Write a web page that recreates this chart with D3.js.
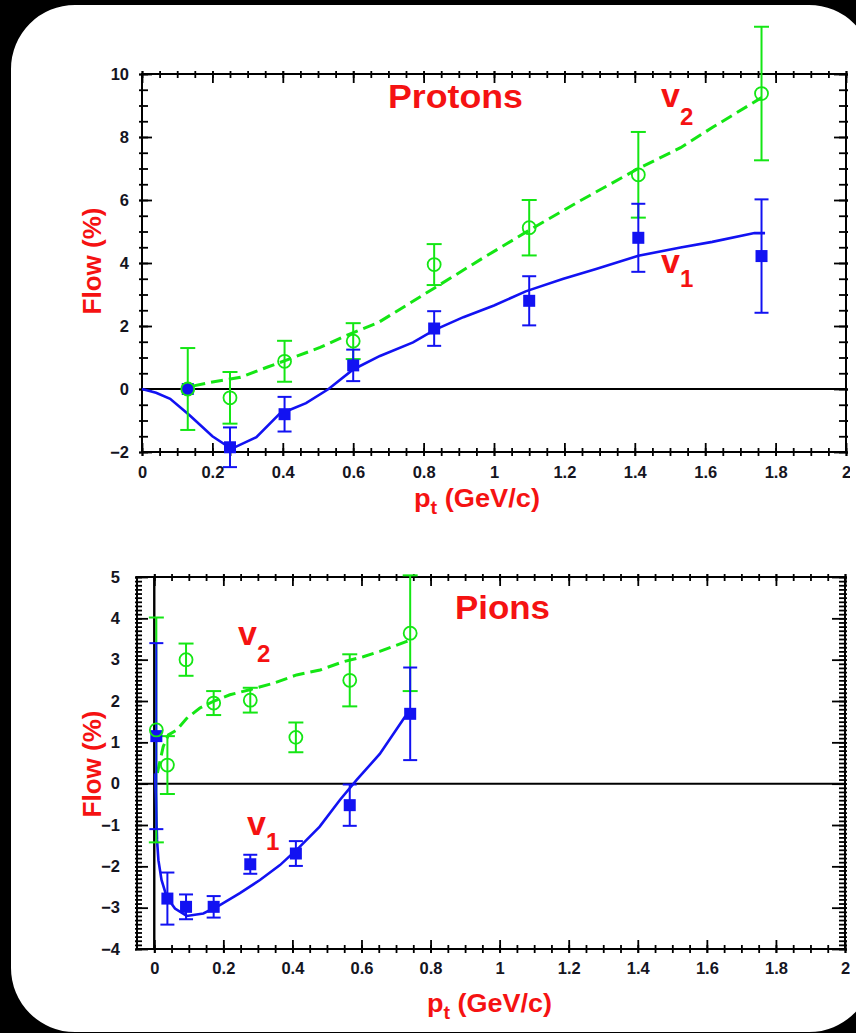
<!DOCTYPE html>
<html>
<head>
<meta charset="utf-8">
<script src="https://cdn.jsdelivr.net/npm/d3@7"></script>
<style>
  html, body { margin: 0; padding: 0; background: #fff; overflow: hidden; }
  svg { display: block; }
  text { font-family: "Liberation Sans", Arial, Helvetica, sans-serif; font-weight: bold; }
</style>
</head>
<body>
<svg id="chart" width="900" height="1033"></svg>
<script>
// ---------------- data ----------------
// Protons: transverse momentum bins and measured flow (%)
const protonPt     = [0.13, 0.25, 0.405, 0.60, 0.83, 1.10, 1.41, 1.76];
const protonV2     = [0.00, -0.28, 0.88, 1.52, 3.95, 5.12, 6.80, 9.38];
const protonV2Err  = [1.30, 0.82, 0.65, 0.57, 0.65, 0.88, 1.36, 2.12];
const protonV1     = [0.00, -1.85, -0.80, 0.75, 1.92, 2.80, 4.80, 4.22];
const protonV1Err  = [0.00, 0.63, 0.55, 0.50, 0.55, 0.78, 1.08, 1.80];

// Protons: model curves [pt, flow]
const protonV1Model = [[0,0],[0.04,-0.12],[0.08,-0.31],[0.136,-0.84],[0.2,-1.5],[0.254,-1.9],
  [0.325,-1.53],[0.39,-0.8],[0.466,-0.45],[0.53,0],[0.6,0.62],[0.676,1.05],[0.77,1.48],
  [0.83,1.87],[0.913,2.28],[1.0,2.65],[1.09,3.1],[1.195,3.49],[1.29,3.81],[1.41,4.23],
  [1.53,4.49],[1.62,4.67],[1.74,4.95],[1.77,4.95]];
const protonV2Model = [[0.146,0.1],[0.2,0.22],[0.28,0.37],[0.355,0.69],[0.43,1.0],[0.506,1.32],
  [0.58,1.7],[0.67,2.1],[0.83,3.2],[0.96,4.1],[1.097,5.02],[1.244,5.97],[1.41,7.0],
  [1.53,7.66],[1.62,8.3],[1.76,9.25]];

// Pions: transverse momentum bins and measured flow (%)
const pionPt     = [0.006, 0.038, 0.092, 0.172, 0.278, 0.41, 0.566, 0.741];
const pionV2     = [1.30, 0.45, 3.00, 1.95, 2.02, 1.12, 2.50, 3.64];
const pionV2Err  = [2.72, 0.70, 0.39, 0.29, 0.30, 0.36, 0.63, 1.40];
const pionV1     = [1.15, -2.78, -2.98, -2.98, -1.95, -1.69, -0.52, 1.69];
const pionV1Err  = [2.25, 0.63, 0.30, 0.26, 0.23, 0.30, 0.50, 1.12];

// Pions: model curves [pt, flow]
const pionV1Model = [[0.002,0.25],[0.005,-0.4],[0.008,-1.36],[0.012,-1.85],[0.021,-2.33],
  [0.036,-2.74],[0.06,-3.02],[0.094,-3.2],[0.142,-3.14],[0.19,-2.94],[0.248,-2.65],
  [0.306,-2.33],[0.364,-1.97],[0.421,-1.53],[0.479,-1.04],[0.538,-0.39],[0.586,0.09],
  [0.653,0.72],[0.726,1.62],[0.741,1.69]];
const pionV2Model = [[0.009,0.26],[0.026,0.9],[0.041,1.18],[0.065,1.3],[0.094,1.58],
  [0.132,1.83],[0.171,1.99],[0.219,2.15],[0.279,2.28],[0.345,2.43],[0.412,2.63],
  [0.48,2.75],[0.547,2.95],[0.605,3.07],[0.653,3.2],[0.692,3.32],[0.731,3.44],[0.741,3.48]];

// Tick values
const ptMajorTicks = [0, 0.2, 0.4, 0.6, 0.8, 1, 1.2, 1.4, 1.6, 1.8, 2];
const protonFlowTicks = [-2, 0, 2, 4, 6, 8, 10];
const pionFlowTicks = [-4, -3, -2, -1, 0, 1, 2, 3, 4, 5];

// ---------------- drawing ----------------
const GREEN = "#14e614";
const BLUE = "#1212f2";
const RED = "#f51212";
const INK = "#15151f";

const svg = d3.select("#chart");

// white card: full white ground, black margin outside a rounded outline
svg.append("rect").attr("width", 900).attr("height", 1033).attr("fill", "#fff");
{
  const p = d3.path();
  p.rect(-5, -5, 910, 1043);
  const x0 = 11, y0 = 5, x1 = 873, y1 = 1032, r = 64;
  p.moveTo(x0 + r, y0);
  p.lineTo(x1 - r, y0);
  p.arcTo(x1, y0, x1, y0 + r, r);
  p.lineTo(x1, y1 - r);
  p.arcTo(x1, y1, x1 - r, y1, r);
  p.lineTo(x0 + r, y1);
  p.arcTo(x0, y1, x0, y1 - r, r);
  p.lineTo(x0, y0 + r);
  p.arcTo(x0, y0, x0 + r, y0, r);
  p.closePath();
  svg.append("path").attr("d", p.toString()).attr("fill", "#000").attr("fill-rule", "evenodd");
}

const range = (a, b, step) => d3.range(Math.round(a / step), Math.round(b / step) + 1)
  .map(i => +(i * step).toFixed(6));
const fmt = d => d3.format("~g")(d);

function tickSet(g, axisFn, scale, values, inner, outer, pos, horizontal) {
  const t = horizontal ? `translate(0,${pos})` : `translate(${pos},0)`;
  const mk = size => axisFn(scale).tickValues(values).tickSize(size).tickFormat("");
  [mk(-inner), mk(outer)].forEach(ax => {
    const a = g.append("g").attr("transform", t).call(ax);
    a.select(".domain").remove();
    a.selectAll("text").remove();
    a.selectAll("line").attr("stroke", "#000").attr("stroke-width", 1.8);
  });
}

function drawPanel(cfg) {
  const x = d3.scaleLinear().domain(cfg.xDomain).range([cfg.left, cfg.right]);
  const y = d3.scaleLinear().domain(cfg.yDomain).range([cfg.bottom, cfg.top]);
  const g = svg.append("g");

  // ticks on all four sides
  const [x0, x1] = [0, 2];
  const [y0, y1] = cfg.yDomain;
  tickSet(g, d3.axisBottom, x, range(x0, x1, 0.05), 4, 4, cfg.bottom, true);
  tickSet(g, d3.axisBottom, x, ptMajorTicks, 9, 4, cfg.bottom, true);
  tickSet(g, d3.axisTop, x, range(x0, x1, 0.05), 4, 3, cfg.top, true);
  tickSet(g, d3.axisTop, x, ptMajorTicks, 9, 3, cfg.top, true);
  tickSet(g, d3.axisLeft, y, range(y0, y1, cfg.yMinor), cfg.minorIn, cfg.outL, cfg.left, false);
  tickSet(g, d3.axisLeft, y, cfg.yTicks, cfg.majorIn, cfg.outL, cfg.left, false);
  tickSet(g, d3.axisRight, y, range(y0, y1, cfg.yMinor), cfg.minorIn + 1, 2, cfg.right, false);
  tickSet(g, d3.axisRight, y, cfg.yTicks, cfg.majorIn + 2, 2, cfg.right, false);

  // tick labels
  const xl = g.append("g").attr("transform", `translate(0,${cfg.bottom})`)
    .call(d3.axisBottom(x).tickValues(ptMajorTicks).tickSize(0).tickPadding(cfg.xPad).tickFormat(fmt));
  xl.select(".domain").remove();
  const yl = g.append("g").attr("transform", `translate(${cfg.left},0)`)
    .call(d3.axisLeft(y).tickValues(cfg.yTicks).tickSize(0).tickPadding(cfg.yPad).tickFormat(fmt));
  yl.select(".domain").remove();
  g.selectAll("text").attr("font-size", 16.5).attr("fill", INK)
    .attr("font-family", "'Liberation Sans', Arial, sans-serif").attr("font-weight", "bold");

  // frame
  g.append("rect")
    .attr("x", cfg.left).attr("y", cfg.top)
    .attr("width", cfg.right - cfg.left).attr("height", cfg.bottom - cfg.top)
    .attr("fill", "none").attr("stroke", "#000").attr("stroke-width", 2);

  // zero lines
  g.append("line").attr("x1", cfg.left).attr("x2", cfg.right)
    .attr("y1", y(0)).attr("y2", y(0)).attr("stroke", "#000").attr("stroke-width", 2);
  if (cfg.xDomain[0] < 0) {
    g.append("line").attr("x1", x(0)).attr("x2", x(0))
      .attr("y1", cfg.top).attr("y2", cfg.bottom).attr("stroke", "#000").attr("stroke-width", 2.4);
  }

  // model curves
  const line = d3.line().x(d => x(d[0])).y(d => y(d[1]));
  g.append("path").datum(cfg.v2Model).attr("d", line).attr("fill", "none")
    .attr("stroke", GREEN).attr("stroke-width", 3).attr("stroke-dasharray", "12,6");
  g.append("path").datum(cfg.v1Model).attr("d", line).attr("fill", "none")
    .attr("stroke", BLUE).attr("stroke-width", 2.6);

  // error bars
  const bars = (pt, val, err, color, cap) => {
    const rows = pt.map((p, i) => ({ p, v: val[i], e: err[i] })).filter(r => r.e > 0);
    const eb = g.append("g").attr("stroke", color).attr("stroke-width", 2);
    eb.selectAll(".stem").data(rows).join("line")
      .attr("x1", r => x(r.p)).attr("x2", r => x(r.p))
      .attr("y1", r => y(r.v + r.e)).attr("y2", r => y(r.v - r.e));
    eb.selectAll(".capHi").data(rows).join("line")
      .attr("x1", r => x(r.p) - cap).attr("x2", r => x(r.p) + cap)
      .attr("y1", r => y(r.v + r.e)).attr("y2", r => y(r.v + r.e));
    eb.selectAll(".capLo").data(rows).join("line")
      .attr("x1", r => x(r.p) - cap).attr("x2", r => x(r.p) + cap)
      .attr("y1", r => y(r.v - r.e)).attr("y2", r => y(r.v - r.e));
  };
  bars(cfg.pt, cfg.v2, cfg.v2Err, GREEN, 7.5);
  bars(cfg.pt, cfg.v1, cfg.v1Err, BLUE, 7);

  // markers
  const s = 12;
  g.append("g").selectAll("rect").data(cfg.pt.map((p, i) => [p, cfg.v1[i]])).join("rect")
    .attr("x", d => x(d[0]) - s / 2).attr("y", d => y(d[1]) - s / 2)
    .attr("width", s).attr("height", s).attr("fill", BLUE);
  g.append("g").selectAll("circle").data(cfg.pt.map((p, i) => [p, cfg.v2[i]])).join("circle")
    .attr("cx", d => x(d[0])).attr("cy", d => y(d[1])).attr("r", 6.5)
    .attr("fill", "none").attr("stroke", GREEN).attr("stroke-width", 1.8);

  // annotations
  g.append("text").text(cfg.title)
    .attr("x", cfg.titlePos[0]).attr("y", cfg.titlePos[1])
    .attr("font-size", 33).attr("fill", RED)
    .attr("textLength", cfg.titlePos[2]).attr("lengthAdjust", "spacingAndGlyphs");
  const vLabel = (pos, sub) => {
    const t = g.append("text").attr("x", pos[0]).attr("y", pos[1])
      .attr("font-size", 34).attr("fill", RED);
    t.append("tspan").text("v");
    t.append("tspan").text(sub).attr("font-size", 24).attr("dy", pos[2]);
  };
  vLabel(cfg.v2Label, "2");
  vLabel(cfg.v1Label, "1");

  // axis titles
  g.append("text").text("Flow (%)")
    .attr("transform", `translate(${cfg.yTitle[0]},${cfg.yTitle[1]}) rotate(-90)`)
    .attr("text-anchor", "middle").attr("font-size", 26).attr("fill", RED);
  const xt = g.append("text").attr("x", cfg.xTitle[0]).attr("y", cfg.xTitle[1])
    .attr("font-size", 26).attr("fill", RED)
    .attr("textLength", cfg.xTitle[2]).attr("lengthAdjust", "spacingAndGlyphs");
  xt.append("tspan").text("p");
  xt.append("tspan").text("t").attr("font-size", 19).attr("dy", 7);
  xt.append("tspan").text(" (GeV/c)").attr("dy", -7);
}

drawPanel({
  left: 142, right: 846, top: 74, bottom: 452,
  xDomain: [0, 2], yDomain: [-2, 10],
  yTicks: protonFlowTicks, yMinor: 0.5, minorIn: 6, majorIn: 10, outL: 3,
  xPad: 14, yPad: 13,
  pt: protonPt, v1: protonV1, v1Err: protonV1Err, v2: protonV2, v2Err: protonV2Err,
  v1Model: protonV1Model, v2Model: protonV2Model,
  title: "Protons", titlePos: [388, 108, 135],
  v2Label: [661, 107, 18], v1Label: [661, 273, 14],
  yTitle: [101, 261], xTitle: [414, 507, 126]
});

drawPanel({
  left: 137, right: 845, top: 577, bottom: 949,
  xDomain: [-0.05, 2], yDomain: [-4, 5],
  yTicks: pionFlowTicks, yMinor: 0.1, minorIn: 5, majorIn: 11, outL: 2,
  xPad: 13, yPad: 17,
  pt: pionPt, v1: pionV1, v1Err: pionV1Err, v2: pionV2, v2Err: pionV2Err,
  v1Model: pionV1Model, v2Model: pionV2Model,
  title: "Pions", titlePos: [455, 619, 95],
  v2Label: [238, 645, 17], v1Label: [247, 835, 15],
  yTitle: [101, 764], xTitle: [427, 1012, 125]
});

// keep the card's right margin clean white
svg.append("rect").attr("x", 850).attr("y", 30).attr("width", 30).attr("height", 970).attr("fill", "#fff");
</script>
</body>
</html>
